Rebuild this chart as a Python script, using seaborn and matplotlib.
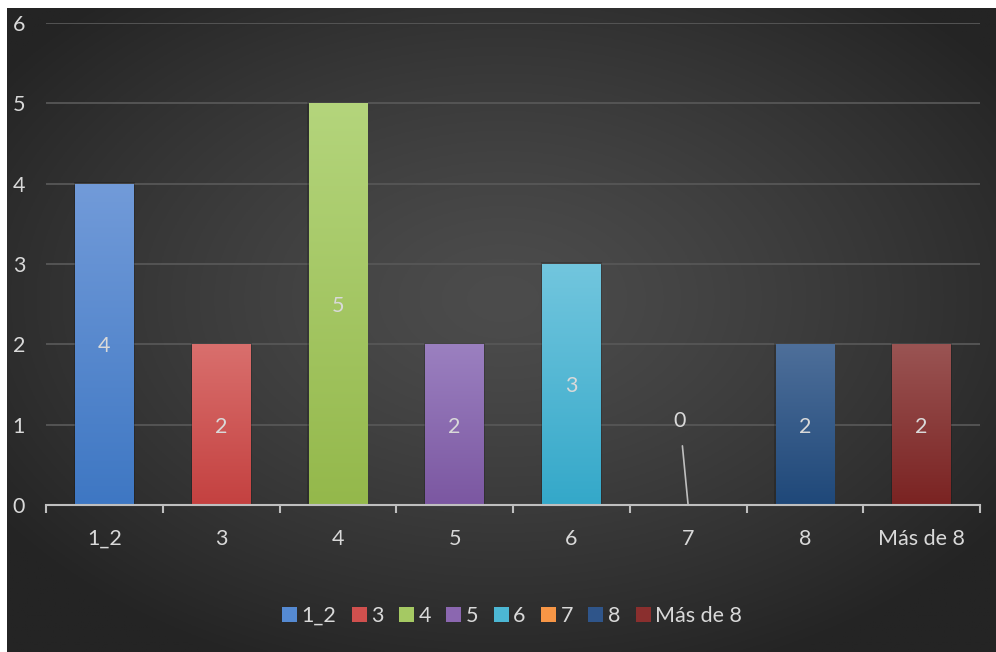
import numpy as np
import pandas as pd
import matplotlib
matplotlib.use("Agg")
import matplotlib.pyplot as plt
import seaborn as sns
from matplotlib.colors import to_rgb
from matplotlib.patches import Patch

# Data
categories = ["1_2", "3", "4", "5", "6", "7", "8", "Más de 8"]
counts = [4, 2, 5, 2, 3, 0, 2, 2]
y_ticks = [0, 1, 2, 3, 4, 5, 6]

# Bar colours: light at the top, darker at the base
top_colors = ["#729bd9", "#d96f6d", "#b4d57c", "#9b80c0", "#72c6de", "#f9a563", "#4e6f9a", "#9a5453"]
bottom_colors = ["#3e77c3", "#c44140", "#94b84b", "#7b57a1", "#34a8c9", "#f79646", "#1f4879", "#7a2322"]
legend_colors = ["#558ad2", "#d0504e", "#a5c963", "#8b67b0", "#4cb7d4", "#f79646", "#2f558a", "#8a2f2e"]

plt.rcParams["font.family"] = ["Lato", "DejaVu Sans"]
text_color = "#d9d9d9"
fs = 15.5

W, H = 996, 652
fig = plt.figure(figsize=(W / 100, H / 100), dpi=100, facecolor="white")

# Dark radial-gradient backdrop
bg = fig.add_axes([7 / W, 0, (W - 7) / W, (H - 8) / H])
bg.set_axis_off()
ny, nx = 300, 460
yy, xx = np.mgrid[0:ny, 0:nx]
cx, cy = nx * 0.5, ny * 0.45
r = np.sqrt(((xx - cx) / (nx * 0.62)) ** 2 + ((yy - cy) / (ny * 0.62)) ** 2)
r = np.clip(r, 0, 1)
c_center, c_edge = 0x4c / 255, 0x24 / 255
val = c_center - (c_center - c_edge) * r ** 1.3
bg.imshow(np.dstack([val, val, val]), aspect="auto", extent=[0, 1, 0, 1])
bg.set_xlim(0, 1)
bg.set_ylim(0, 1)

# Plot area
ax = fig.add_axes([46 / W, 147 / H, 934 / W, 482 / H])
ax.set_facecolor("none")
df = pd.DataFrame({"cat": categories, "n": counts})
sns.barplot(data=df, x="cat", y="n", hue="cat", palette=legend_colors,
            width=0.5, legend=False, ax=ax, zorder=2)

# Replace flat fills with vertical gradients
for i, cont in enumerate(ax.containers):
    for bar in cont:
        h = bar.get_height()
        if h <= 0:
            continue
        x0 = bar.get_x()
        w = bar.get_width()
        t = np.linspace(0, 1, 256)[:, None]
        c0 = np.array(to_rgb(top_colors[i]))
        c1 = np.array(to_rgb(bottom_colors[i]))
        grad = (c0[None, :] * (1 - t) + c1[None, :] * t)[:, None, :]
        # soft shadow
        ax.add_patch(plt.Rectangle((x0 - 0.012, 0), w + 0.024, h + 0.02,
                                   facecolor="black", alpha=0.18, edgecolor="none", zorder=1.8))
        im = ax.imshow(grad, extent=[x0, x0 + w, 0, h], aspect="auto",
                       origin="upper", zorder=2.1)
        im.set_clip_path(bar)
        bar.set_facecolor("none")
        bar.set_edgecolor("none")

# Value labels
for i, v in enumerate(counts):
    if v > 0:
        ax.annotate(str(v), xy=(i, v / 2), xytext=(0, -2), textcoords="offset pixels",
                    ha="center", va="center", color=text_color, fontsize=fs, zorder=4)
    else:
        ax.annotate(str(v), xy=(i, 0), xytext=(i - 0.07, 1.05),
                    ha="center", va="center", color=text_color, fontsize=fs,
                    arrowprops=dict(arrowstyle="-", color="#bfbfbf", lw=1.2,
                                    shrinkA=9, shrinkB=0), zorder=4)

ax.set_xlim(-0.5, len(categories) - 0.5)
ax.set_ylim(0, 6)
ax.set_yticks(y_ticks)
ax.set_yticklabels([str(t) for t in y_ticks], color=text_color, fontsize=fs)
for lab in ax.get_yticklabels():
    lab.set_horizontalalignment("left")
ax.tick_params(axis="y", length=0, pad=24)

ax.set_xticks(np.arange(-0.5, len(categories), 1.0))
ax.set_xticklabels([""] * (len(categories) + 1))
ax.tick_params(axis="x", which="major", length=6, width=1.5, color="#bfbfbf", direction="out")
ax.set_xticks(np.arange(len(categories)), minor=True)
ax.set_xticklabels(categories, minor=True, color=text_color, fontsize=fs)
ax.tick_params(axis="x", which="minor", length=0, pad=17)
ax.set_xlabel("")
ax.set_ylabel("")

ax.set_axisbelow(True)
ax.yaxis.grid(True, color="#575757", lw=1.3)
ax.xaxis.grid(False)
for s in ["left", "right", "top"]:
    ax.spines[s].set_visible(False)
ax.spines["bottom"].set_color("#bfbfbf")
ax.spines["bottom"].set_linewidth(1.5)
ax.spines["bottom"].set_zorder(3)

# Legend
handles = [Patch(facecolor=c, edgecolor="none") for c in legend_colors]
fig.legend(handles, categories, loc="center", bbox_to_anchor=(0.514, 0.055),
           ncol=len(categories), frameon=False, fontsize=fs, labelcolor=text_color,
           handlelength=0.7, handleheight=0.7, handletextpad=0.2, columnspacing=0.72)

fig.savefig("out.png", dpi=100, facecolor="white")
